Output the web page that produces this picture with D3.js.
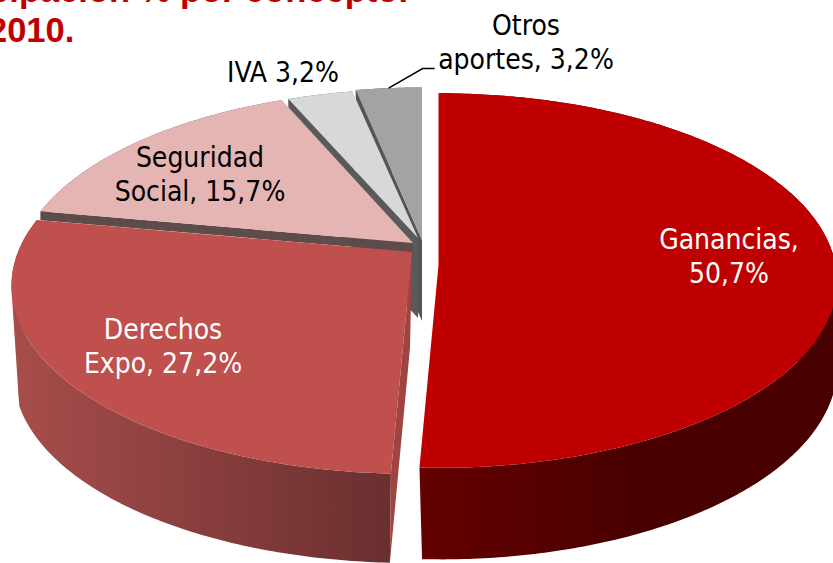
<!DOCTYPE html>
<html>
<head>
<meta charset="utf-8">
<script src="https://cdn.jsdelivr.net/npm/d3@7"></script>
<style>
  html, body { margin: 0; padding: 0; background: #fff; overflow: hidden; }
  .label { font-family: "DejaVu Sans Condensed", "DejaVu Sans", sans-serif; font-size: 28px; text-anchor: middle; }
  .title { font-family: "Liberation Sans", Arial, sans-serif; font-size: 34.5px; font-weight: bold; fill: #c00000; }
</style>
</head>
<body>
<svg id="chart" width="833" height="563"></svg>
<script>
var categories = ["Ganancias", "Derechos Expo", "Seguridad Social", "IVA", "Otros aportes"];
var values = [50.7, 27.2, 15.7, 3.2, 3.2];
var labelLines = [
    ["Ganancias,", "50,7%"],
    ["Derechos", "Expo, 27,2%"],
    ["Seguridad", "Social, 15,7%"],
    ["IVA 3,2%"],
    ["Otros", "aportes, 3,2%"]
];
var titleLines = ["Participación % por concepto.", "2010."];

// look of each slice, same order as categories
var topColors = ["#bf0000", "#bf504d", "#e5b5b4", "#d8d8d8", "#a3a3a3"];
var wallColors = [["#640000", "#490000"], ["#a64d4b", "#6a2f2f"], ["#5e4c4a", "#5e4c4a"], ["#5a5a5a", "#5a5a5a"], ["#5a5a5a", "#5a5a5a"]];
var wallRange = [[423, 640], [20, 390], [40, 413], [287, 418], [355, 422]];
var cutColors = [null, "#a04341", "#5e4c4a", "#5a5a5a", "#555555"];
// outer wall ends in a corner on the two big slices (degrees clockwise from top)
var wallLimits = [[101.5, 360], [0, 252.5], [0, 360], [0, 360], [0, 360]];

// perspective discs, one per slice because the slices are pulled apart
var topDiscs = [
    {cx: 438.5, cy: 265, rx: 397, ry: 186, k: 0.083},
    {cx: 412, cy: 252, rx: 394, ry: 182, k: 0.18},
    {cx: 413, cy: 243, rx: 391, ry: 181, k: 0.18},
    {cx: 418, cy: 238, rx: 386, ry: 176, k: 0.18},
    {cx: 422, cy: 240, rx: 390, ry: 180, k: 0.18}
];
var bottomDiscs = [
    {cx: 441, cy: 350, rx: 395, ry: 192, k: 0.083},
    {cx: 410, cy: 348, rx: 392, ry: 184, k: 0.144},
    {cx: 413, cy: 252, rx: 391, ry: 181, k: 0.18},
    {cx: 418, cy: 318, rx: 380, ry: 173, k: 0.18},
    {cx: 422, cy: 321, rx: 384, ry: 177, k: 0.18}
];
var labelSpots = [
    {x: 729, y: 249}, {x: 163, y: 339}, {x: 200, y: 167}, {x: 283, y: 82}, {x: 526, y: 35}
];
var lineStep = 34;

function project(disc, angle) {
    var u = Math.sin(angle), v = -Math.cos(angle);
    // v is negative at the back of the pie, which comes out smaller
    var w = 1 - disc.k * v;
    return [disc.cx + disc.rx * u / w, disc.cy + disc.ry * v / w];
}

var svg = d3.select("#chart");
var defs = svg.append("defs");
var line = d3.line();
var pie = d3.pie().sort(null).value(function(d) { return d; });
var arcs = pie(values);

var title = svg.append("g");
title.append("text").attr("class", "title").attr("text-anchor", "end").attr("x", 408).attr("y", 1.5).text(titleLines[0]);
title.append("text").attr("class", "title").attr("x", -12).attr("y", 41.5).text(titleLines[1]);

// back slices first so the nearer ones cover them
d3.range(values.length - 1, -1, -1).forEach(function(i) {
    var a = arcs[i], top = topDiscs[i], bottom = bottomDiscs[i];
    var g = svg.append("g").attr("class", "slice-" + i);
    var steps = Math.ceil((a.endAngle - a.startAngle) / 0.012);
    var angle = d3.scaleLinear().domain([0, steps]).range([a.startAngle, a.endAngle]);
    var limit = d3.scaleLinear().domain([0, 360]).range([0, 2 * Math.PI]);
    var loAngle = limit(wallLimits[i][0]), hiAngle = limit(wallLimits[i][1]);
    var wallFill = "url(#wall-" + i + ")";

    var grad = defs.append("linearGradient").attr("id", "wall-" + i)
        .attr("gradientUnits", "userSpaceOnUse")
        .attr("x1", wallRange[i][0]).attr("x2", wallRange[i][1])
        .attr("y1", 0).attr("y2", 0);
    wallColors[i].forEach(function(c, j) {
        grad.append("stop").attr("offset", j).attr("stop-color", c);
    });

    // outer wall between the limits: top rim one way, bottom rim back
    var rim = d3.range(steps + 1).map(angle);
    var inside = rim.filter(function(t) { return t >= loAngle && t <= hiAngle; });
    var upper = inside.map(function(t) { return project(top, t); });
    var lower = inside.map(function(t) { return project(bottom, t); }).reverse();
    g.append("path").attr("d", line(upper.concat(lower)) + "Z").attr("fill", wallFill);

    // straight silhouette from the corner up to the top rim
    [[loAngle, rim.filter(function(t) { return t < loAngle; })],
     [hiAngle, rim.filter(function(t) { return t > hiAngle; })]].forEach(function(part) {
        if (part[1].length < 2) return;
        var fan = part[1].map(function(t) { return project(top, t); });
        fan.push(project(top, part[0]), project(bottom, part[0]));
        g.append("path").attr("d", line(d3.polygonHull(fan)) + "Z").attr("fill", wallFill);
    });

    // flat cut face
    if (cutColors[i]) {
        g.append("path")
            .attr("d", line([[top.cx, top.cy], [bottom.cx, bottom.cy], project(bottom, a.startAngle), project(top, a.startAngle)]) + "Z")
            .attr("fill", cutColors[i]);
    }

    // top face
    var face = rim.map(function(t) { return project(top, t); });
    g.append("path").attr("d", line([[top.cx, top.cy]].concat(face)) + "Z").attr("fill", topColors[i]);
});

// leader line of the last label
var otros = project(topDiscs[4], arcs[4].startAngle + 0.1);
svg.append("path")
    .attr("d", line([[otros[0], otros[1]], [otros[0] + 34, 68.5], [otros[0] + 46, 68.5]]))
    .attr("fill", "none").attr("stroke", "#000").attr("stroke-width", 1.5);

labelLines.forEach(function(lines, i) {
    var color = i < 2 ? "#fff" : "#000";
    lines.forEach(function(t, j) {
        svg.append("text").attr("class", "label")
            .attr("x", labelSpots[i].x)
            .attr("y", labelSpots[i].y + j * lineStep)
            .attr("fill", color)
            .text(t);
    });
});
</script>
</body>
</html>
